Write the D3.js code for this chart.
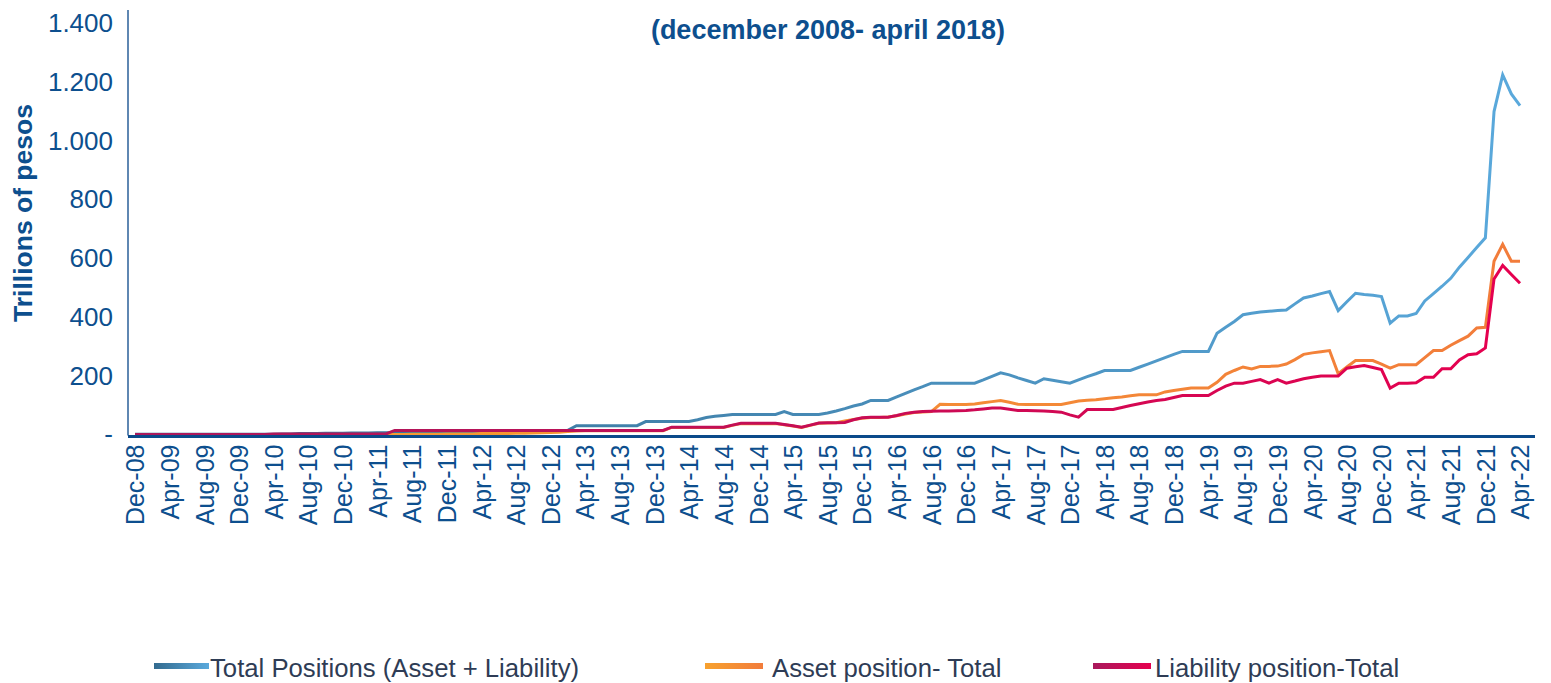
<!DOCTYPE html>
<html>
<head>
<meta charset="utf-8">
<script src="https://cdn.jsdelivr.net/npm/d3@7"></script>
<style>
  body { margin: 0; background: #fff; }
  svg text { font-family: "Liberation Sans", Arial, sans-serif; }
</style>
</head>
<body>
<svg id="chart" width="1551" height="683"></svg>
<script>
// Monthly positions, Dec-08 .. Apr-22 (trillions of pesos)
const months = d3.timeMonth.range(new Date(2008, 11, 1), new Date(2022, 4, 1));
const fmtMonth = d3.timeFormat("%b-%y");
const categories = months.map(fmtMonth);

const totalPositions = [
  1,                                              // Dec-08
  1, 1, 1, 1, 1, 1, 1, 1, 1, 1, 1, 1,             // 2009
  1, 1, 1, 1, 2, 2, 3, 3, 3, 4, 4, 4,             // 2010
  5, 5, 5, 6, 6, 6, 6, 7, 7, 7, 8, 8,             // 2011
  8, 9, 9, 9, 10, 10, 10, 11, 11, 11, 12, 12,     // 2012
  12, 14, 30, 30, 30, 30, 30, 30, 30, 30, 44, 44, // 2013
  44, 44, 44, 44, 50, 58, 62, 65, 68, 68, 68, 68, // 2014
  68, 68, 78, 68, 68, 68, 68, 73, 80, 88, 97, 104,          // 2015
  116, 116, 116, 128, 140, 152, 163, 175, 175, 175, 175, 175, // 2016
  175, 186, 198, 210, 203, 193, 184, 175, 190, 185, 180, 175, // 2017
  186, 197, 207, 218, 218, 218, 218, 229, 240, 251, 262, 273, // 2018
  283, 283, 283, 283, 345, 365, 385, 408, 413, 417, 420, 422, // 2019
  424, 445, 465, 472, 480, 487, 422, 452, 481, 477, 474, 470, // 2020
  379, 404, 404, 412, 455, 480, 505, 532, 570, 603, 637, 670, // 2021
  1100, 1225, 1160, 1120                                      // 2022
];

const assetPosition = [
  null,
  null, null, null, null, null, null, null, null, null, null, null, null,
  null, null, null, null, null, null, 0, 0, 0, 0, 0, 0,
  0, 0, 0, 0, 0, 0, 0, 1, 1, 1, 1, 2,
  2, 2, 2, 3, 3, 3, 3, 4, 4, 5, 6, 7,
  8, 10, 12, 13, 13, 13, 13, 13, 13, 13, 13, 13,
  13, 24, 24, 24, 24, 24, 24, 24, 31, 37, 37, 37,
  37, 37, 33, 29, 24, 31, 38, 39, 40, 46, 51, 55,
  58, 58, 60, 64, 70, 75, 77, 78, 103, 102, 102, 102,
  104, 108, 112, 116, 110, 103, 102, 102, 102, 102, 102, 108,
  114, 117, 118, 122, 125, 128, 132, 135, 135, 135, 145, 150,
  154, 158, 158, 158, 178, 205, 218, 230, 223, 232, 232, 233,
  240, 255, 273, 278, 282, 286, 207, 230, 252, 252, 252, 240,
  226, 238, 238, 238, 262, 286, 286, 304, 320, 335, 363, 365,
  590, 648, 590, 590
];

const liabilityPosition = [
  0,
  0, 0, 0, 0, 0, 0, 0, 0, 0, 0, 0, 0,
  0, 0, 0, 2, 2, 2, 2, 2, 2, 2, 2, 2,
  2, 2, 2, 2, 2, 14, 14, 14, 14, 14, 14, 14,
  14, 14, 14, 14, 14, 14, 14, 14, 14, 14, 14, 14,
  14, 14, 14, 14, 14, 14, 14, 14, 14, 14, 14, 14,
  14, 25, 25, 25, 25, 25, 25, 25, 32, 38, 38, 38,
  38, 38, 34, 30, 25, 32, 39, 40, 40, 41, 50, 57,
  59, 59, 59, 65, 72, 76, 78, 79, 80, 80, 81, 82,
  84, 87, 90, 90, 86, 82, 82, 81, 80, 78, 76, 67,
  59, 85, 85, 85, 85, 92, 99, 105, 111, 116, 119, 126,
  133, 133, 133, 133, 150, 165, 175, 175, 181, 187, 175, 187,
  175, 182, 190, 195, 199, 199, 199, 226, 231, 235, 228, 221,
  158, 175, 175, 176, 195, 195, 224, 224, 254, 272, 275, 295,
  530, 576, 545, 515
];

const yTicks = [0, 200, 400, 600, 800, 1000, 1200, 1400];
const tickLabels = categories.filter((d, i) => i % 4 === 0);

const seriesNames = ["Total Positions (Asset + Liability)", "Asset position- Total", "Liability position-Total"];
const seriesColors = [["#336b8f", "#5aa9dc"], ["#f7a12e", "#f27c3b"], ["#a8195c", "#e6004f"]];

const svg = d3.select("#chart");
const plotLeft = 128, plotRight = 1535, plotTop = 10, plotBottom = 435.5;

const x = d3.scalePoint().domain(categories).range([135, 1520]);
const y = d3.scaleLinear().domain([0, 1400]).range([434.5, 23.5]);

const blue = "#0d4f8e";
const defs = svg.append("defs");
seriesColors.forEach((c, k) => {
  const g = defs.append("linearGradient").attr("id", "grad" + k)
    .attr("gradientUnits", "userSpaceOnUse")
    .attr("x1", x.range()[0]).attr("x2", x.range()[1]).attr("y1", 0).attr("y2", 0);
  g.append("stop").attr("offset", "0%").attr("stop-color", c[0]);
  g.append("stop").attr("offset", "100%").attr("stop-color", c[1]);
  const lg = defs.append("linearGradient").attr("id", "lgrad" + k);
  lg.append("stop").attr("offset", "0%").attr("stop-color", c[0]);
  lg.append("stop").attr("offset", "100%").attr("stop-color", c[1]);
});

// title
svg.append("text")
  .attr("x", 828).attr("y", 39)
  .attr("text-anchor", "middle")
  .attr("font-size", 27).attr("font-weight", "bold")
  .attr("fill", blue)
  .text("(december 2008- april 2018)");

// y axis
const locale = d3.formatLocale({ decimal: ",", thousands: ".", grouping: [3], currency: ["$", ""] });
const fmt = locale.format(",d");
const yAxis = svg.append("g")
  .attr("transform", `translate(${plotLeft},0)`)
  .call(d3.axisLeft(y).tickValues(yTicks).tickSize(0).tickPadding(15)
    .tickFormat(d => d === 0 ? "-" : fmt(d)));
yAxis.select(".domain").remove();
yAxis.selectAll("text")
  .attr("font-size", 26).attr("fill", blue)
  .style("font-family", '"Liberation Sans", Arial, sans-serif');

svg.append("line")
  .attr("x1", plotLeft).attr("x2", plotLeft).attr("y1", plotTop).attr("y2", plotBottom)
  .attr("stroke", "#2a5f98").attr("stroke-width", 1.5);

svg.append("text")
  .attr("transform", "translate(32,213) rotate(-90)")
  .attr("text-anchor", "middle")
  .attr("font-size", 26.5).attr("font-weight", "bold")
  .attr("fill", blue)
  .text("Trillions of pesos");

// x axis
const xAxis = svg.append("g")
  .attr("transform", `translate(0,${plotBottom})`)
  .call(d3.axisBottom(x).tickValues(tickLabels).tickSize(0).tickPadding(0));
xAxis.select(".domain").remove();
xAxis.selectAll("text")
  .attr("font-size", 25).attr("fill", blue)
  .style("font-family", '"Liberation Sans", Arial, sans-serif')
  .attr("text-anchor", "end")
  .attr("y", 0).attr("dy", "0.35em")
  .attr("transform", "translate(0,9) rotate(-90)");

// lines
const allSeries = [totalPositions, assetPosition, liabilityPosition];
allSeries.forEach((vals, k) => {
  const line = d3.line()
    .defined(d => d != null)
    .x((d, i) => x(categories[i]))
    .y(d => y(d));
  svg.append("path")
    .datum(vals)
    .attr("d", line)
    .attr("fill", "none")
    .attr("stroke", `url(#grad${k})`)
    .attr("stroke-width", 3);
});

svg.append("line")
  .attr("x1", plotLeft).attr("x2", plotRight).attr("y1", plotBottom + 1).attr("y2", plotBottom + 1)
  .attr("stroke", "#0b4a8a").attr("stroke-width", 3);

// legend
const legendX = [154, 705, 1093];
const legend = svg.append("g").selectAll("g")
  .data(seriesNames).join("g")
  .attr("transform", (d, k) => `translate(${legendX[k]},0)`);
legend.append("rect")
  .attr("x", 0).attr("y", 663).attr("width", (d, k) => k === 0 ? 55 : 58).attr("height", 6)
  .attr("fill", (d, k) => `url(#lgrad${k})`);
legend.append("text")
  .attr("x", (d, k) => [56, 67, 62][k]).attr("y", 677)
  .attr("font-size", 25.7).attr("fill", "#2e3c55")
  .text(d => d);
</script>
</body>
</html>
